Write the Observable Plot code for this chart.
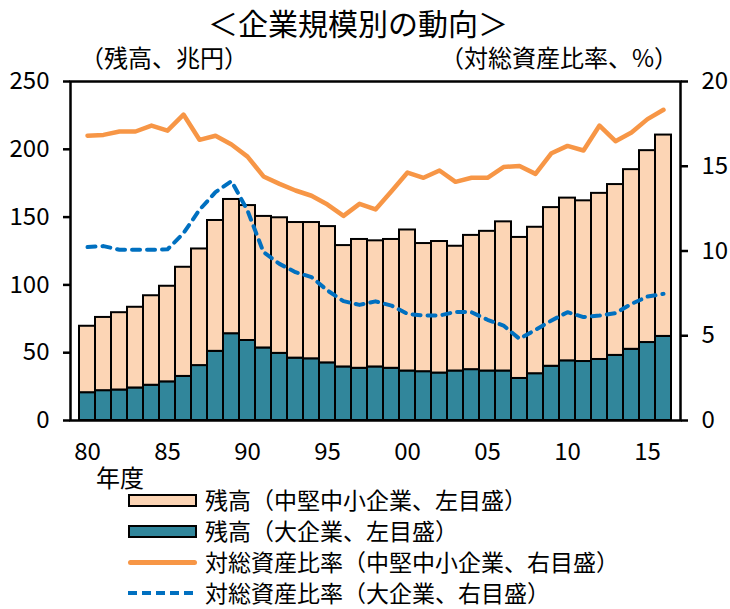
<!DOCTYPE html>
<html><head><meta charset="utf-8">
<script src="https://cdn.jsdelivr.net/npm/d3@7"></script>
<script src="https://cdn.jsdelivr.net/npm/@observablehq/plot@0.6"></script>
<style>
  body{margin:0;background:#fff;font-family:"Noto Sans CJK JP",sans-serif;color:#000;}
  #wrap{position:relative;width:730px;height:609px;overflow:hidden;}
  .abs{position:absolute;white-space:nowrap;line-height:1.25;}
  .lg{position:absolute;left:128px;height:28px;line-height:1.2;display:flex;align-items:center;font-size:23px;white-space:nowrap;}
  .sw{width:69px;margin-right:8px;box-sizing:border-box;flex:none;}
</style>
</head><body>
<div id="wrap">
  <div class="abs" style="left:208px;top:0px;font-size:30px;line-height:1.5;">＜企業規模別の動向＞</div>
  <div class="abs" style="left:80px;top:42px;font-size:24px;">（残高、兆円）</div>
  <div class="abs" style="left:440px;top:42px;font-size:24px;">（対総資産比率、%）</div>
  <div id="chart" class="abs" style="left:0;top:60px;line-height:1;"></div>
  <div class="abs" style="left:96px;top:462px;font-size:24px;">年度</div>
  <div id="legend"></div>
</div>
<script>
const years = [1980,1981,1982,1983,1984,1985,1986,1987,1988,1989,1990,1991,1992,1993,1994,1995,1996,1997,1998,1999,2000,2001,2002,2003,2004,2005,2006,2007,2008,2009,2010,2011,2012,2013,2014,2015,2016];
// 残高（大企業）兆円
const largeBal = [20.5,22,22.5,24,26,28.5,32.5,40.5,51,64,59,53.5,49.5,46,45.5,42.5,39.5,38.5,39.5,38.5,36.5,36,35,36.5,37.5,36.5,36.5,31,34.5,40,44,43.5,45,48,52.5,57.5,62];
// 残高（中堅中小企業）兆円
const smeBal = [49,54,57,59.5,66,70.5,80.5,86,96.5,99,99.5,97,100,100,100.5,100.5,89.5,95,93,95,104,94.5,97,92,99,103,110,104,108,117,120,118.5,122.5,126,132.5,141.5,148.5];
// 対総資産比率（中堅中小企業）%
const smeRatio = [16.8,16.85,17.05,17.05,17.4,17.1,18.05,16.56,16.8,16.28,15.57,14.4,13.96,13.57,13.26,12.74,12.07,12.78,12.45,13.53,14.63,14.32,14.75,14.08,14.32,14.32,14.95,15.02,14.55,15.77,16.2,15.93,17.4,16.48,16.99,17.78,18.33];
// 対総資産比率（大企業）%
const largeRatio = [10.23,10.29,10.07,10.07,10.07,10.1,11.05,12.43,13.47,14.12,12.39,9.93,9.24,8.75,8.46,7.67,7.04,6.82,7.03,6.78,6.29,6.19,6.19,6.41,6.39,5.94,5.6,4.82,5.35,5.9,6.39,6.1,6.19,6.33,6.88,7.31,7.47];
const leftTicks = [0,50,100,150,200,250];
const rightTicks = [0,5,10,15,20];
const xTicks = [1980,1985,1990,1995,2000,2005,2010,2015];

const R = 250 / 20; // right-axis to left-axis conversion
const table = years.map((y, i) => ({
  year: y,
  large: largeBal[i],
  total: largeBal[i] + smeBal[i],
  smeR: smeRatio[i] * R,
  largeR: largeRatio[i] * R
}));

const peach = "#FCD5B5", teal = "#31869B", orange = "#F79646", blue = "#0070C0";

const chart = Plot.plot({
  width: 730, height: 430,
  marginLeft: 70, marginRight: 50, marginTop: 21, marginBottom: 70,
  style: {fontFamily: "'Noto Sans CJK JP', sans-serif", fontSize: "24px", color: "#000", background: "transparent"},
  x: {type: "band", domain: years, padding: 0},
  y: {domain: [0, 250]},
  marks: [
    Plot.barY(table, {x: "year", y1: 0, y2: "large", fill: teal, stroke: "#000", strokeWidth: 2}),
    Plot.barY(table, {x: "year", y1: "large", y2: "total", fill: peach, stroke: "#000", strokeWidth: 2}),
    Plot.line(table, {x: "year", y: "smeR", stroke: orange, strokeWidth: 4.5, strokeLinejoin: "round"}),
    Plot.line(table, {x: "year", y: "largeR", stroke: blue, strokeWidth: 4, strokeDasharray: "8,7", strokeLinecap: "round"}),
    Plot.frame({stroke: "#000", strokeWidth: 2.5}),
    Plot.axisY({anchor: "left", ticks: leftTicks, tickSize: 7, tickPadding: 14, strokeWidth: 2.5, label: null, fontSize: 24}),
    Plot.axisY({anchor: "right", ticks: rightTicks.map(d => d * R), tickFormat: d => String(Math.round(d / R)), tickSize: 7, tickPadding: 14, strokeWidth: 2.5, label: null, fontSize: 24}),
    Plot.axisX({anchor: "bottom", ticks: xTicks, tickFormat: d => String(d).slice(2), tickSize: 0, tickPadding: 22, label: null, fontSize: 24})
  ]
});
document.getElementById("chart").appendChild(chart);

const legendItems = [
  {label: "残高（中堅中小企業、左目盛）", kind: "rect", color: peach},
  {label: "残高（大企業、左目盛）", kind: "rect", color: teal},
  {label: "対総資産比率（中堅中小企業、右目盛）", kind: "line", color: orange},
  {label: "対総資産比率（大企業、右目盛）", kind: "dash", color: blue}
];
const legendTops = [486, 517, 548, 579];
const lg = document.getElementById("legend");
legendItems.forEach((it, i) => {
  const row = document.createElement("div");
  row.className = "lg";
  row.style.top = legendTops[i] + "px";
  const sw = document.createElement("div");
  sw.className = "sw";
  if (it.kind === "rect") {
    sw.style.height = "13px"; sw.style.background = it.color; sw.style.border = "2.5px solid #000";
  } else if (it.kind === "line") {
    sw.style.height = "5px"; sw.style.background = it.color; sw.style.borderRadius = "3px";
  } else {
    sw.style.height = "4px";
    sw.style.background = `repeating-linear-gradient(90deg, ${it.color} 0 9px, transparent 9px 14px)`;
  }
  row.appendChild(sw);
  const t = document.createElement("span");
  t.textContent = it.label;
  row.appendChild(t);
  lg.appendChild(row);
});
</script>
</body></html>
